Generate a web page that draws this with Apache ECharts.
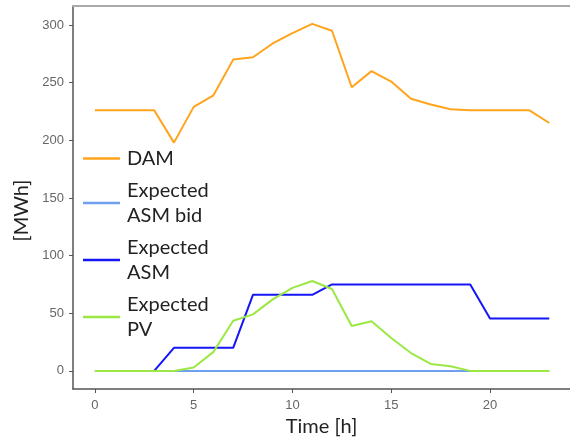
<!DOCTYPE html>
<html>
<head>
<meta charset="utf-8">
<script src="https://cdn.jsdelivr.net/npm/echarts@6/dist/echarts.min.js"></script>
<style>html,body{margin:0;padding:0;background:#fff}#c{width:570px;height:437px}</style>
</head>
<body>
<div id="c"></div>
<script>
var hours = [0,1,2,3,4,5,6,7,8,9,10,11,12,13,14,15,16,17,18,19,20,21,22,23];
var dam = [226,226,226,226,198,229,239,270,272,284,293,301,295,246,260,251,236,231,227,226,226,226,226,215];
var asmBid = [0,0,0,0,0,0,0,0,0,0,0,0,0,0,0,0,0,0,0,0,0,0,0,0];
var asm = [0,0,0,0,20,20,20,20,66,66,66,66,75,75,75,75,75,75,75,75,45.5,45.5,45.5,45.5];
var pv = [0,0,0,0,0,3,16.5,43.5,49,62,72,78,71,39,43,28.5,15.5,6,4,0,0,0,0,0];
var xTicks = [0,5,10,15,20];
var yTicks = [0,50,100,150,200,250,300];
var seriesNames = ['DAM','Expected\nASM bid','Expected\nASM','Expected\nPV'];
var seriesColors = ['#FFA41C','#6F9FEF','#1515F5','#9BE845'];

function pairs(v){ return hours.map(function(h,i){ return [h, v[i]]; }); }
var values = [dam, asmBid, asm, pv];

var chart = echarts.init(document.getElementById('c'));
chart.setOption({
  animation: false,
  backgroundColor: '#fff',
  grid: {left: 73, top: 6, right: 0, bottom: 48, outerBoundsMode: 'none', containLabel: false},
  legend: {
    left: 78, top: 141, orient: 'vertical',
    icon: 'rect', itemWidth: 37, itemHeight: 2.5, itemGap: 7,
    data: seriesNames,
    textStyle: {fontFamily: 'Lato', fontSize: 20, lineHeight: 25, color: '#222', padding: [0,0,0,2]}
  },
  xAxis: [{
    type: 'value', min: -1.11, max: 24.05,
    name: 'Time [h]', nameLocation: 'middle', nameGap: 25,
    nameTextStyle: {fontFamily: 'Lato', fontSize: 20, color: '#222'},
    axisLine: {onZero: false, lineStyle: {color: '#555', width: 1.5}},
    axisTick: {show: true, length: 4, customValues: xTicks, lineStyle: {color: '#555'}},
    axisLabel: {customValues: xTicks, color: '#666', fontSize: 13, margin: 10, fontFamily: 'Liberation Sans'},
    splitLine: {show: false}
  }, {
    type: 'value', position: 'top', min: -1.11, max: 24.05,
    axisLine: {show: true, onZero: false, lineStyle: {color: '#aaa', width: 2}},
    axisTick: {show: false}, axisLabel: {show: false}, splitLine: {show: false}
  }],
  yAxis: {
    type: 'value', min: -15.7, max: 316.5,
    name: '[MWh]', nameLocation: 'middle', nameGap: 41,
    nameTextStyle: {fontFamily: 'Lato', fontSize: 20, color: '#222', padding: [0,0,0,-26]},
    axisLine: {show: true, onZero: false, lineStyle: {color: '#555', width: 1.5}},
    axisTick: {show: true, length: 4, customValues: yTicks, lineStyle: {color: '#555'}},
    axisLabel: {customValues: yTicks, color: '#666', fontSize: 13, margin: 9, fontFamily: 'Liberation Sans'},
    splitLine: {show: false}
  },
  series: seriesNames.map(function(n, i){
    return {
      name: n, type: 'line', data: pairs(values[i]), xAxisIndex: 0,
      symbol: 'none', color: seriesColors[i],
      lineStyle: {width: 2, color: seriesColors[i]}
    };
  })
});
</script>
</body>
</html>
